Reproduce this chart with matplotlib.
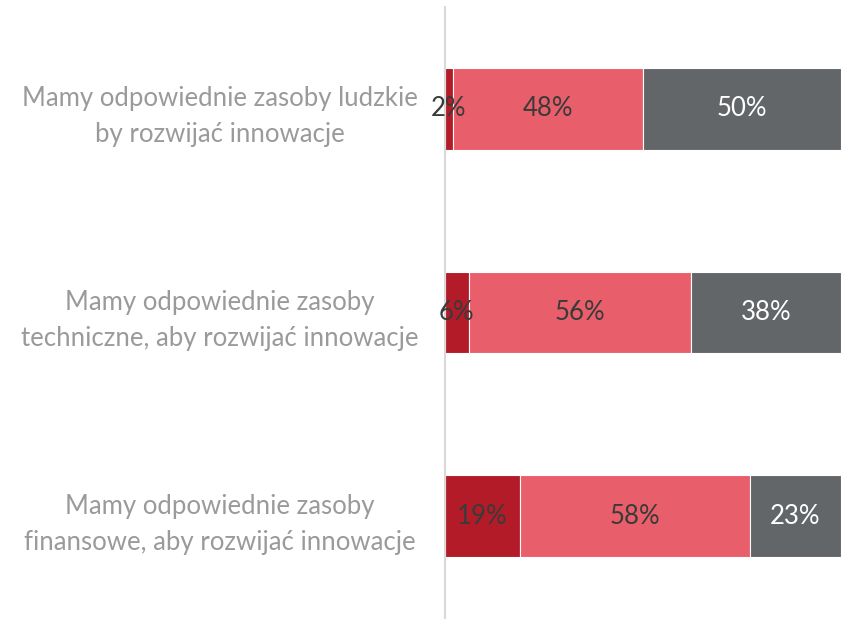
import matplotlib
matplotlib.use("Agg")
import matplotlib.pyplot as plt
import numpy as np

categories = [
    "Mamy odpowiednie zasoby ludzkie\nby rozwijać innowacje",
    "Mamy odpowiednie zasoby\ntechniczne, aby rozwijać innowacje",
    "Mamy odpowiednie zasoby\nfinansowe, aby rozwijać innowacje",
]
s1 = [2, 6, 19]
s2 = [48, 56, 58]
s3 = [50, 38, 23]
colors = ["#B31B28", "#E95E6B", "#636669"]
label_colors = ["#3A3A3A", "#3A3A3A", "#FFFFFF"]

plt.rcParams['font.family'] = ['Lato', 'DejaVu Sans']

fig = plt.figure(figsize=(8.51, 6.19), dpi=100)
ax = fig.add_axes([445/851, 1 - 618/619, 396/851, 611/619])

y = np.arange(len(categories))
left = np.zeros(len(categories))
for vals, c, lc in zip([s1, s2, s3], colors, label_colors):
    vals = np.array(vals, dtype=float)
    ax.barh(y, vals, left=left, height=0.4, color=c, edgecolor="white", linewidth=0.8)
    for yi, (l, v) in enumerate(zip(left, vals)):
        ax.text(l + v / 2, yi, f"{int(v)}%", ha="center", va="center",
                color=lc, fontsize=18.5)
    left += vals

ax.set_xlim(0, 100)
ax.set_ylim(len(categories) - 0.5, -0.5)
ax.set_yticks(y)
ax.set_yticklabels(categories, fontsize=18.5, color="#9A9A9A", ha="center",
                   linespacing=1.55)
ax.tick_params(axis="y", length=0, pad=162)
ax.set_xticks([])
for sp in ["top", "right", "bottom"]:
    ax.spines[sp].set_visible(False)
ax.spines["left"].set_color("#D9D9D9")
ax.spines["left"].set_linewidth(1.5)

fig.savefig("out.png", dpi=100)
